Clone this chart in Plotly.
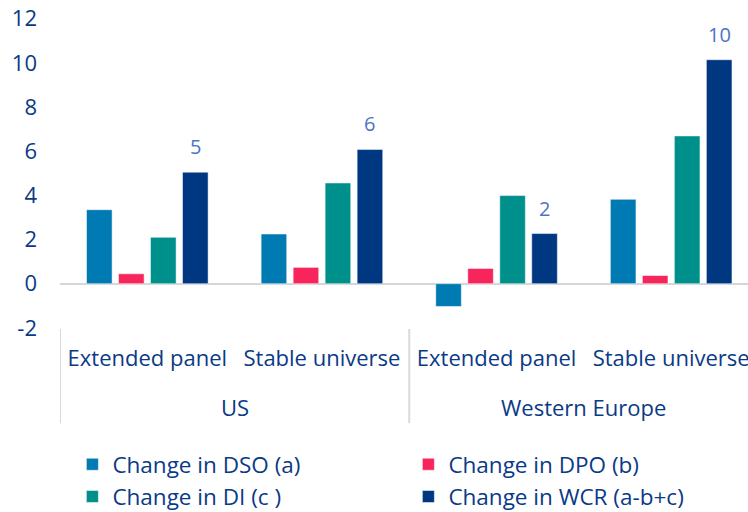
import plotly.graph_objects as go

# ------------------------------------------------------------
# Data
# ------------------------------------------------------------

regions = ["US", "Western Europe"]
samples = ["Extended panel", "Stable universe", "Extended panel", "Stable universe"]

dso = [3.35, 2.25, -1.03, 3.82]
dpo = [0.45, 0.74, 0.69, 0.37]
di = [2.10, 4.56, 3.99, 6.69]
wcr = [5.05, 6.08, 2.27, 10.14]
wcr_labels = ["5", "6", "2", "10"]

y_ticks = [-2, 0, 2, 4, 6, 8, 10, 12]

series = [
    ("Change in DSO (a)", dso, "#007ab3"),
    ("Change in DPO (b)", dpo, "#f7255b"),
    ("Change in DI (c )", di, "#00908b"),
    ("Change in WCR (a-b+c)", wcr, "#003781"),
]

NAVY = "#0a3a86"
FONT = "Open Sans"
BARGAP = 0.267

positions = list(range(len(samples)))

fig = go.Figure()

for name, values, colour in series:
    fig.add_trace(
        go.Bar(
            x=positions,
            y=values,
            name=name,
            marker=dict(color=colour, line=dict(color="rgba(255,255,255,0.5)", width=1)),
        )
    )

# ------------------------------------------------------------
# Labels above WCR bars
# ------------------------------------------------------------

slot = (1 - BARGAP) / len(series)
wcr_offset = -(1 - BARGAP) / 2 + slot * 3.5

for i, (v, lab) in enumerate(zip(wcr, wcr_labels)):
    fig.add_annotation(
        x=positions[i] + wcr_offset,
        y=v,
        text=lab,
        showarrow=False,
        yanchor="bottom",
        yshift=10,
        font=dict(family=FONT, size=20, color="#4d73c6"),
    )

# ------------------------------------------------------------
# Region labels and dividers
# ------------------------------------------------------------

per_region = len(samples) // len(regions)

for k, region in enumerate(regions):
    first = positions[k * per_region]
    last = positions[(k + 1) * per_region - 1]

    fig.add_annotation(
        x=(first + last) / 2,
        y=-0.245,
        xref="x",
        yref="paper",
        text=region,
        showarrow=False,
        yanchor="middle",
        font=dict(family=FONT, size=22, color=NAVY),
    )

    fig.add_shape(
        type="line",
        x0=first - 0.5,
        x1=first - 0.5,
        y0=0,
        y1=-0.297,
        xref="x",
        yref="paper",
        line=dict(color="#d9d9d9", width=2),
    )

# ------------------------------------------------------------
# Layout
# ------------------------------------------------------------

fig.update_layout(
    width=748,
    height=512,
    margin=dict(l=60, r=0, t=12, b=183, autoexpand=False),
    plot_bgcolor="white",
    paper_bgcolor="white",
    barmode="group",
    bargap=BARGAP,
    bargroupgap=0.2,
    font=dict(family=FONT, size=22, color=NAVY),
    showlegend=True,
    legend=dict(
        orientation="h",
        x=0.018,
        xanchor="left",
        y=-0.36,
        yanchor="top",
        entrywidth=291,
        font=dict(size=22.5, color=NAVY),
        itemwidth=30,
    ),
)

fig.update_xaxes(
    range=[-0.5, 3.44],
    tickvals=positions,
    ticktext=samples,
    showgrid=False,
    showline=False,
    zeroline=False,
    ticks="",
    ticklabelstandoff=14,
    ticklabeloverflow="allow",
    tickfont=dict(size=22, color=NAVY),
)

fig.update_yaxes(
    range=[-2.05, 12.3],
    tickvals=y_ticks,
    ticktext=[str(t) for t in y_ticks],
    showgrid=False,
    zeroline=True,
    zerolinecolor="#d6d6d6",
    zerolinewidth=2,
    ticklabelstandoff=22,
    tickfont=dict(size=22, color=NAVY),
)

fig.write_html(
    "out.html",
    config={"displayModeBar": False},
    post_script="document.body.style.margin = '0';",
)
